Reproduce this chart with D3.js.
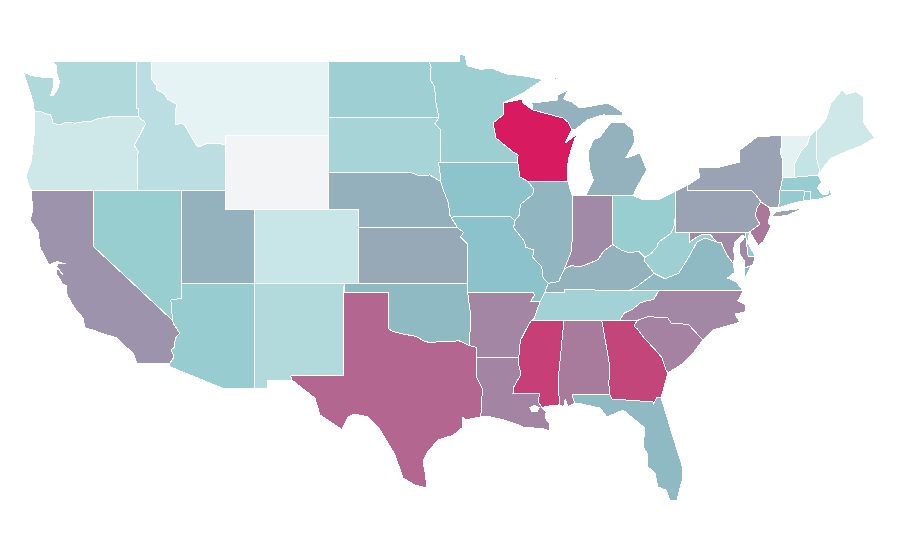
<!DOCTYPE html>
<html>
<head>
<meta charset="utf-8">
<title>US states</title>
<script src="https://cdn.jsdelivr.net/npm/d3@7"></script>
<style>
  html, body { margin: 0; background: #fff; }
  svg { display: block; }
</style>
</head>
<body>
<div id="map"></div>
<script>
// state names and values, same order
const stateNames = ["WA","OR","CA","NV","ID","MT","WY","UT","AZ","NM","CO","ND","SD","NE","KS","OK","TX","MN","IA","MO","AR","LA","WI","IL","IN","MI","OH","KY","TN","MS","AL","GA","FL","SC","NC","VA","WV","MD","DE","PA","NJ","NY","CT","RI","MA","VT","NH","ME"];
const stateValues = [26,14,64,35,22,5,0,50,36,25,16.5,33,30,51,54.5,46,79,34,41,42,70,70.5,100,48,68,50,35,50,31.5,90,73,88,46,71,69,46,33,68,37,57,74,57,37,37,36,5.5,18,14];

// colour ramp
const rampStops = [0,5,35,42,50,70,100];
const rampColors = ["#f3f4f6","#e5f3f5","#99ced1","#8bc2cb","#93b2bd","#a386a4","#d81b60"];

// lon / lat range of the map
const lonDomain = [-120,-67];
const latDomain = [49,25];

// outlines as lon / lat, one list of rings per state
const WA = [[[-122.76,49],[-117.04,49],[-117.04,46.42],[-116.92,46.42],[-116.92,46],[-118.98,46],[-119,45.93],[-119.6,45.92],[-120.2,45.73],[-120.6,45.73],[-121.2,45.65],[-121.9,45.68],[-122.3,45.55],[-122.75,45.65],[-122.8,45.85],[-122.9,46.1],[-123.2,46.15],[-123.5,46.26],[-124,46.25],[-124.05,46.7],[-124.15,46.95],[-124.4,47.6],[-124.73,48.38],[-124.1,48.2],[-123.5,48.13],[-122.85,48.13],[-122.72,48.1],[-122.7,47.6],[-122.9,47.15],[-122.75,47.12],[-122.5,47.35],[-122.35,47.6],[-122.3,47.95],[-122.45,48.2],[-122.5,48.75]]];
const OR = [[[-124,46.25],[-123.5,46.26],[-123.2,46.15],[-122.9,46.1],[-122.8,45.85],[-122.75,45.65],[-122.3,45.55],[-121.9,45.68],[-121.2,45.65],[-120.6,45.73],[-120.2,45.73],[-119.6,45.92],[-119,45.93],[-118.98,46],[-116.92,46],[-116.78,45.85],[-116.55,45.75],[-116.46,45.6],[-116.67,45.3],[-116.85,45],[-117.22,44.45],[-117.05,44.23],[-116.95,44.1],[-117.03,43.83],[-117.03,42],[-120,42],[-124.16,42],[-124.4,42.3],[-124.55,42.84],[-124.2,43.6],[-124.07,44.6],[-123.95,45.5]]];
const CA = [[[-124.16,42],[-120,42],[-120,39],[-114.63,35],[-114.57,34.83],[-114.14,34.3],[-114.43,34.05],[-114.52,33.55],[-114.72,33.4],[-114.52,33.03],[-114.8,32.7],[-117.04,32.65],[-117.3,33.24],[-117.9,33.65],[-118.4,34.05],[-119.4,34.3],[-120.1,34.5],[-120.56,34.6],[-120.7,35.13],[-121.3,35.7],[-121.78,36.37],[-121.8,36.85],[-122.05,36.95],[-122.5,37.5],[-122.5,37.78],[-122.35,37.75],[-122.1,37.5],[-122.4,37.85],[-122.5,37.83],[-122.4,38.1],[-121.9,38.05],[-122.45,38.18],[-123,38],[-123.6,38.9],[-123.75,39.77],[-124.29,40.42],[-124.09,40.95],[-124.2,41.75]],[[-120.15,34.02],[-119.95,34.08],[-119.75,34.02]],[[-119.6,34.02],[-119.45,34.05],[-119.4,34]]];
const NV = [[[-120,42],[-114.04,42],[-114.04,36.2],[-114.74,36.1],[-114.63,35],[-120,39]]];
const ID = [[[-117.04,49],[-116.05,49],[-116.05,48],[-115.72,47.7],[-115.7,47.45],[-115.2,47.25],[-114.93,46.92],[-114.33,46.65],[-114.45,46.25],[-114.45,45.55],[-114,45.65],[-113.8,45.52],[-113.45,45.05],[-113,44.45],[-112.85,44.37],[-112.3,44.55],[-111.5,44.55],[-111.05,44.48],[-111.05,42],[-117.03,42],[-117.03,43.83],[-116.95,44.1],[-117.05,44.23],[-117.22,44.45],[-116.85,45],[-116.67,45.3],[-116.46,45.6],[-116.55,45.75],[-116.78,45.85],[-116.92,46],[-116.92,46.42],[-117.04,46.42]]];
const MT = [[[-116.05,49],[-104.05,49],[-104.05,45],[-111.05,45],[-111.05,44.48],[-111.5,44.55],[-112.3,44.55],[-112.85,44.37],[-113,44.45],[-113.45,45.05],[-113.8,45.52],[-114,45.65],[-114.45,45.55],[-114.45,46.25],[-114.33,46.65],[-114.93,46.92],[-115.2,47.25],[-115.7,47.45],[-115.72,47.7],[-116.05,48]]];
const WY = [[[-111.05,45],[-104.05,45],[-104.05,41],[-111.05,41]]];
const UT = [[[-114.04,42],[-111.05,42],[-111.05,41],[-109.05,41],[-109.05,37],[-114.04,37]]];
const AZ = [[[-114.04,37],[-109.05,37],[-109.05,31.33],[-111.2,31.33],[-114.81,32.5],[-114.8,32.7],[-114.52,33.03],[-114.72,33.4],[-114.52,33.55],[-114.43,34.05],[-114.14,34.3],[-114.57,34.83],[-114.63,35],[-114.74,36.1],[-114.04,36.2]]];
const NM = [[[-109.05,37],[-103,37],[-103.04,32],[-106.62,32],[-106.53,31.78],[-108.2,31.78],[-108.2,31.33],[-109.05,31.33]]];
const CO = [[[-109.05,41],[-102.05,41],[-102.05,37],[-109.05,37]]];
const ND = [[[-104.05,49],[-97.23,49],[-97.1,48.65],[-97.15,48],[-96.85,47.6],[-96.8,46.9],[-96.56,45.94],[-104.05,45.94]]];
const SD = [[[-104.05,45.94],[-96.56,45.94],[-96.85,45.6],[-96.45,45.3],[-96.45,43.5],[-96.6,43.5],[-96.5,43.05],[-96.45,42.5],[-97.2,42.85],[-97.9,42.8],[-98.5,43],[-104.05,43]]];
const NE = [[[-104.05,43],[-98.5,43],[-97.9,42.8],[-97.2,42.85],[-96.45,42.5],[-96.25,42],[-95.9,41.3],[-95.85,40.7],[-95.3,40],[-102.05,40],[-102.05,41],[-104.05,41]]];
const KS = [[[-102.05,40],[-95.3,40],[-94.9,39.75],[-95.1,39.5],[-94.6,39.1],[-94.62,37],[-102.05,37]]];
const OK = [[[-103,37],[-94.62,37],[-94.62,36.5],[-94.43,35.4],[-94.48,33.64],[-95.2,33.9],[-96,33.85],[-96.6,33.85],[-97.2,33.8],[-97.6,33.9],[-98.1,34.13],[-99.2,34.3],[-99.7,34.4],[-100,34.56],[-100,36.5],[-103,36.5]]];
const TX = [[[-103.04,36.5],[-100,36.5],[-100,34.56],[-99.7,34.4],[-99.2,34.3],[-98.1,34.13],[-97.6,33.9],[-97.2,33.8],[-96.6,33.85],[-96,33.85],[-95.2,33.9],[-94.48,33.64],[-94.04,33.55],[-94.04,33.02],[-94.04,31.99],[-93.58,31.25],[-93.7,30.6],[-93.71,30],[-93.78,29.79],[-94.73,29.63],[-95,29.79],[-94.93,29.25],[-95.6,28.8],[-96.63,28.55],[-97.38,27.85],[-97.65,27.36],[-97.5,26.77],[-97.38,25.96],[-98.2,26.12],[-99,26.5],[-99.55,27.75],[-100.56,29.1],[-101.38,29.79],[-102.26,29.95],[-102.73,29.79],[-103.14,29.1],[-104.63,29.9],[-104.97,30.8],[-106.53,31.78],[-106.62,32],[-103.04,32]]];
const MN = [[[-97.23,49],[-95.15,49],[-95.15,49.38],[-94.8,49.3],[-94.65,48.75],[-93.8,48.55],[-92.95,48.6],[-92,48.3],[-90.85,48.2],[-89.5,48],[-90.8,47.3],[-92.2,46.73],[-92.22,46.09],[-92.9,45.65],[-92.7,44.85],[-91.55,44.09],[-91.2,43.93],[-91.22,43.5],[-96.45,43.5],[-96.45,45.3],[-96.85,45.6],[-96.56,45.94],[-96.8,46.9],[-96.85,47.6],[-97.15,48],[-97.1,48.65]]];
const IA = [[[-96.45,43.5],[-91.22,43.5],[-91.07,42.74],[-90.53,42.5],[-90.15,42.1],[-90.2,41.8],[-91.05,41.25],[-91.1,40.7],[-91.42,40.38],[-91.7,40.6],[-95.77,40.58],[-95.85,40.7],[-95.9,41.3],[-96.25,42],[-96.45,42.5],[-96.5,43.05],[-96.6,43.5]]];
const MO = [[[-95.77,40.58],[-91.7,40.6],[-91.42,40.38],[-91.5,40],[-90.75,39.25],[-90.7,38.95],[-90.15,38.8],[-90.2,38.4],[-89.6,37.9],[-89.5,37.3],[-89.15,37],[-89.4,36.5],[-89.7,36],[-90.37,36],[-90.1,36.35],[-90.15,36.5],[-94.62,36.5],[-94.62,37],[-94.6,39.1],[-95.1,39.5],[-94.9,39.75],[-95.3,40],[-95.85,40.7]]];
const AR = [[[-94.62,36.5],[-90.15,36.5],[-90.1,36.35],[-90.37,36],[-89.7,36],[-89.95,35.5],[-90.1,35.1],[-90.3,35],[-90.6,34.6],[-91.05,33.9],[-91.15,33],[-94.04,33.02],[-94.04,33.55],[-94.48,33.64],[-94.43,35.4]]];
const LA = [[[-94.04,33.02],[-91.15,33],[-91.15,32.6],[-91,32.1],[-91.5,31.4],[-91.55,31.03],[-89.73,31.03],[-89.85,30.65],[-89.6,30.3],[-89.3,30.05],[-89.35,29.7],[-89.05,29.45],[-89.1,29.05],[-89.5,29.15],[-90.19,29.2],[-90.73,29.2],[-91.3,29.4],[-92.2,29.63],[-93.3,29.84],[-93.78,29.79],[-93.71,30],[-93.7,30.6],[-93.58,31.25],[-94.04,31.99]],[[-90.4,30.3],[-90.1,30.42],[-89.75,30.3],[-89.9,30.1],[-90.3,30.1]]];
const WI = [[[-92.2,46.73],[-90.87,46.95],[-90.87,46.73],[-90.2,46.36],[-88.15,45.92],[-87.82,45.7],[-87.55,45.28],[-88.02,44.57],[-87,45.17],[-87.34,44.84],[-87.75,43.82],[-87.88,43.12],[-87.82,42.5],[-90.53,42.5],[-91.07,42.74],[-91.22,43.5],[-91.2,43.93],[-91.55,44.09],[-92.7,44.85],[-92.9,45.65],[-92.22,46.09]]];
const IL = [[[-90.53,42.5],[-87.82,42.5],[-87.53,41.72],[-87.53,39.35],[-87.6,38.7],[-88.05,37.8],[-88.45,37.1],[-89.15,37],[-89.5,37.3],[-89.6,37.9],[-90.2,38.4],[-90.15,38.8],[-90.7,38.95],[-90.75,39.25],[-91.5,40],[-91.42,40.38],[-91.1,40.7],[-91.05,41.25],[-90.2,41.8],[-90.15,42.1]]];
const IN = [[[-87.53,41.72],[-87.2,41.75],[-86.6,41.76],[-84.8,41.76],[-84.8,39.1],[-85.4,38.73],[-85.8,38.27],[-86.3,38.1],[-87,37.9],[-87.6,37.95],[-88.05,37.8],[-87.6,38.7],[-87.53,39.35]]];
const MI = [[[-86.6,41.76],[-84.8,41.76],[-83.4,41.73],[-83.13,42.2],[-82.47,43.12],[-82.94,44.04],[-83.2,43.95],[-83.9,43.77],[-83.28,44.63],[-83.4,45.28],[-84,45.7],[-84.9,45.7],[-85.3,45.28],[-85.65,44.9],[-86.1,44.74],[-86.46,44.04],[-86.33,43.12],[-86.1,42.58]],[[-90.26,46.73],[-88.5,46.9],[-88.5,47.17],[-87.82,47.43],[-88.1,46.95],[-87.55,46.79],[-87,46.46],[-85.1,46.73],[-84.15,46.25],[-84.1,46.03],[-85.45,46.09],[-86.5,45.82],[-87.35,45.28],[-87.55,45.28],[-87.82,45.7],[-88.15,45.92],[-90.2,46.36]],[[-89.15,47.9],[-88.5,48.15],[-88.55,48.05]]];
const OH = [[[-84.8,41.76],[-83.4,41.73],[-82.7,41.5],[-81.7,41.5],[-80.52,41.98],[-80.52,40.64],[-80.65,40],[-80.85,39.7],[-81.7,39.2],[-81.75,39],[-82.2,38.6],[-82.6,38.4],[-83,38.73],[-83.7,38.65],[-84.2,38.8],[-84.8,39.1]]];
const KY = [[[-89.4,36.5],[-88.07,36.5],[-88.07,36.68],[-86.5,36.65],[-83.68,36.6],[-83.1,36.85],[-82.7,37.1],[-81.97,37.54],[-82.6,38.17],[-82.6,38.4],[-83,38.73],[-83.7,38.65],[-84.2,38.8],[-84.8,39.1],[-85.4,38.73],[-85.8,38.27],[-86.3,38.1],[-87,37.9],[-87.6,37.95],[-88.05,37.8],[-88.45,37.1],[-89.15,37]]];
const TN = [[[-90.3,35],[-88.2,35],[-85.52,34.98],[-84.32,34.99],[-84,35.4],[-83.5,35.57],[-82.9,35.95],[-82.6,36.03],[-82,36.13],[-81.68,36.59],[-83.68,36.6],[-86.5,36.65],[-88.07,36.68],[-88.07,36.5],[-89.4,36.5],[-89.7,36],[-89.95,35.5],[-90.1,35.1]]];
const MS = [[[-90.3,35],[-88.2,35],[-88.1,34.9],[-88.47,31.9],[-88.4,30.44],[-89,30.4],[-89.6,30.3],[-89.85,30.65],[-89.73,31.03],[-91.55,31.03],[-91.5,31.4],[-91,32.1],[-91.15,32.6],[-91.15,33],[-91.05,33.9],[-90.6,34.6]]];
const AL = [[[-88.2,35],[-85.52,34.98],[-84.97,32.49],[-85,32.3],[-85.05,31.55],[-84.97,30.98],[-87.55,30.98],[-87.35,30.54],[-87.82,30.33],[-88,30.75],[-88.1,30.35],[-88.4,30.44],[-88.47,31.9],[-88.1,34.9]]];
const GA = [[[-85.52,34.98],[-84.32,34.99],[-83.11,35],[-83.35,34.7],[-83.1,34.53],[-82.6,34],[-82,33.5],[-81.45,33],[-81.15,32.3],[-81.03,32.16],[-81.25,31.6],[-81.5,30.81],[-81.78,30.87],[-82.05,30.44],[-82.05,30.6],[-84.83,30.76],[-84.97,30.98],[-85.05,31.55],[-85,32.3],[-84.97,32.49]]];
const FL = [[[-87.55,30.98],[-84.97,30.98],[-84.83,30.76],[-82.05,30.6],[-82.05,30.44],[-81.78,30.87],[-81.5,30.81],[-81.1,29.79],[-80.7,28.71],[-80.09,27.2],[-80.02,26.55],[-80.43,25.3],[-80.9,25.3],[-81.17,25.85],[-81.72,26.01],[-81.92,26.77],[-82.39,27.09],[-82.46,27.84],[-82.73,28.17],[-82.6,29.19],[-83.27,29.63],[-84.08,30.16],[-85.17,29.79],[-85.65,30.27],[-87.2,30.54],[-87.35,30.54]]];
const SC = [[[-83.11,35],[-82.4,35.2],[-81.05,35.15],[-80.8,34.82],[-79.67,34.8],[-78.67,33.94],[-79.33,33.24],[-80,32.7],[-81.03,32.16],[-81.15,32.3],[-81.45,33],[-82,33.5],[-82.6,34],[-83.1,34.53],[-83.35,34.7]]];
const NC = [[[-84.32,34.99],[-83.11,35],[-82.4,35.2],[-81.05,35.15],[-80.8,34.82],[-79.67,34.8],[-78.67,33.94],[-78,34.48],[-76.16,34.9],[-76.5,35.35],[-75.82,35.45],[-75.76,35.83],[-76.3,36.05],[-75.95,36.59],[-81.68,36.59],[-82,36.13],[-82.6,36.03],[-82.9,35.95],[-83.5,35.57],[-84,35.4]]];
const VA = [[[-83.68,36.6],[-81.68,36.59],[-75.95,36.59],[-76.15,36.8],[-76.37,37.07],[-77,37.29],[-76.5,37.61],[-76.63,38.1],[-77.05,38.53],[-77.3,38.97],[-77.45,39.23],[-77.73,39.23],[-78.53,39.45],[-79.07,39.23],[-79.55,38.53],[-80.3,37.55],[-81.25,37.25],[-81.97,37.54],[-82.7,37.1],[-83.1,36.85]],[[-75.82,37.83],[-75.4,37.93],[-75.82,37.29]]];
const WV = [[[-80.52,40.64],[-80.52,39.72],[-79.57,39.72],[-79.57,39.23],[-78.87,39.6],[-78.2,39.66],[-77.73,39.23],[-78.53,39.45],[-79.07,39.23],[-79.55,38.53],[-80.3,37.55],[-81.25,37.25],[-81.97,37.54],[-82.6,38.17],[-82.6,38.4],[-82.2,38.6],[-81.75,39],[-81.7,39.2],[-80.85,39.7],[-80.65,40]]];
const MD = [[[-79.57,39.72],[-75.79,39.72],[-75.6,38.47],[-75.12,38.47],[-75.28,37.99],[-75.82,37.83],[-75.82,38.15],[-76.2,38.64],[-76.15,39.18],[-75.82,39.5],[-76,39.6],[-76.5,39.23],[-76.6,38.8],[-76.5,38.37],[-76.63,38.1],[-77.05,38.53],[-77.3,38.97],[-77.45,39.23],[-77.73,39.23],[-78.2,39.66],[-78.87,39.6],[-79.57,39.23]]];
const DE = [[[-75.79,39.72],[-75.5,39.78],[-75.65,39.2],[-75.12,38.47],[-75.6,38.47]]];
const PA = [[[-80.52,41.98],[-79.68,42.3],[-79.68,42],[-75.35,42],[-75.05,41.75],[-74.74,41.4],[-75,41.07],[-75.13,40.65],[-74.8,40.2],[-75.5,39.78],[-75.79,39.72],[-80.52,39.72]]];
const NJ = [[[-74.74,41.4],[-74.13,41.07],[-74.1,40.65],[-74.26,40.3],[-74.05,40.1],[-74.6,39.23],[-74.9,39.05],[-75.28,39.5],[-75.5,39.78],[-74.8,40.2],[-75.13,40.65],[-75,41.07]]];
const NY = [[[-79.68,42],[-79.68,42.3],[-78.87,42.74],[-79,43.23],[-77.5,43.28],[-76.16,43.55],[-76.16,44.2],[-75,44.9],[-73.31,45],[-73.4,44],[-73.24,43.6],[-73.24,42.73],[-73.44,42.04],[-73.5,41.3],[-73.58,41.07],[-74.13,41.07],[-74.74,41.4],[-75.05,41.75],[-75.35,42]],[[-74.03,40.6],[-73,40.65],[-71.87,41.05],[-72.6,40.98],[-73.7,40.87]]];
const CT = [[[-73.44,42.04],[-71.74,41.98],[-71.88,41.45],[-72.9,41.25],[-73.58,41.07],[-73.5,41.3]]];
const RI = [[[-71.74,41.98],[-71.4,41.98],[-71.4,41.5],[-71.88,41.45]]];
const MA = [[[-73.44,42.04],[-73.24,42.73],[-72.43,42.73],[-70.87,42.84],[-70.6,42.47],[-70.93,42.15],[-70.53,41.77],[-70.2,41.78],[-70.1,42.05],[-69.92,41.77],[-70.53,41.6],[-71.07,41.5],[-71.4,41.5],[-71.4,41.98],[-71.74,41.98]]];
const VT = [[[-73.31,45],[-71.4,45],[-71.6,44.5],[-72.05,44.1],[-72.43,43.49],[-72.43,42.73],[-73.24,42.73],[-73.24,43.6],[-73.4,44]]];
const NH = [[[-71.4,45],[-71,45.27],[-70.93,43.65],[-70.73,43],[-70.87,42.84],[-72.43,42.73],[-72.43,43.49],[-72.05,44.1],[-71.6,44.5]]];
const ME = [[[-71,45.27],[-70.8,45.4],[-70.3,45.9],[-70,46.7],[-69.23,47.46],[-68.9,47.2],[-68.3,47.35],[-67.8,47.07],[-67.8,45.7],[-67.45,45.3],[-67,44.85],[-68,44.4],[-69,44.1],[-70,43.75],[-70.73,43],[-70.93,43.65]]];

const stateRings = [WA,OR,CA,NV,ID,MT,WY,UT,AZ,NM,CO,ND,SD,NE,KS,OK,TX,MN,IA,MO,AR,LA,WI,IL,IN,MI,OH,KY,TN,MS,AL,GA,FL,SC,NC,VA,WV,MD,DE,PA,NJ,NY,CT,RI,MA,VT,NH,ME];

const width = 900, height = 560;

const x = d3.scaleLinear().domain(lonDomain).range([93.3, 875]);
const y = d3.scaleLinear().domain(latDomain).range([61, 505.7]);

const color = d3.scaleLinear().domain(rampStops).range(rampColors);

const ring = d3.line()
    .x(d => x(d[0]))
    .y(d => y(d[1]))
    .curve(d3.curveLinearClosed);

const svg = d3.select("#map")
    .append("svg")
    .attr("width", width)
    .attr("height", height);

svg.append("g")
    .selectAll("path")
    .data(stateNames)
    .enter()
    .append("path")
    .attr("d", (d, i) => stateRings[i].map(r => ring(r)).join(""))
    .attr("fill", (d, i) => color(stateValues[i]))
    .attr("fill-rule", "evenodd")
    .attr("stroke", "#fff")
    .attr("stroke-width", 1)
    .attr("stroke-linejoin", "round")
    .attr("shape-rendering", "crispEdges");
</script>
</body>
</html>
